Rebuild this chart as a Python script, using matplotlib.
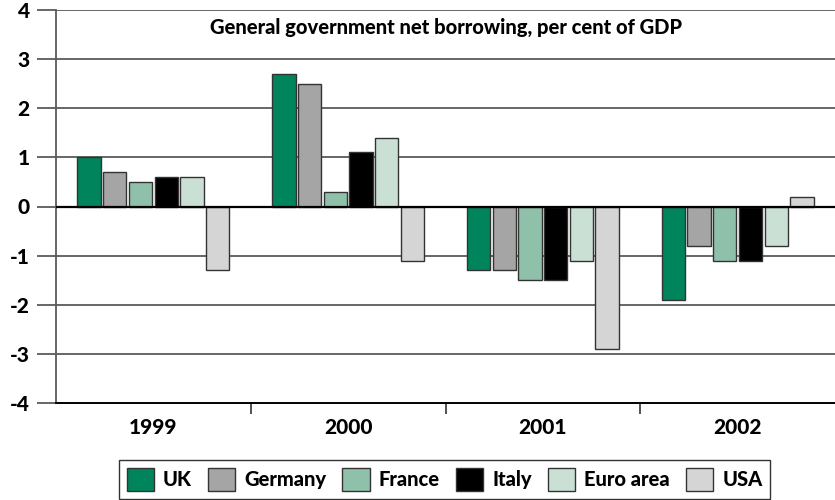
import matplotlib
matplotlib.use("Agg")
import matplotlib.pyplot as plt
import numpy as np
from matplotlib.patches import Patch

years = ["1999", "2000", "2001", "2002"]
series = ["UK", "Germany", "France", "Italy", "Euro area", "USA"]
uk = [1.0, 2.7, -1.3, -1.9]
germany = [0.7, 2.5, -1.3, -0.8]
france = [0.5, 0.3, -1.5, -1.1]
italy = [0.6, 1.1, -1.5, -1.1]
euro = [0.6, 1.4, -1.1, -0.8]
usa = [-1.3, -1.1, -2.9, 0.2]
values = [uk, germany, france, italy, euro, usa]
colors = ["#00845C", "#A5A5A5", "#8FC1AA", "#000000", "#CBE0D5", "#D5D5D5"]
yticks = [4, 3, 2, 1, 0, -1, -2, -3, -4]
title = "General government net borrowing, per cent of GDP"

plt.rcParams['font.family'] = ['Lato', 'DejaVu Sans']
W = 900

fig = plt.figure(figsize=(8.35, 5.0), dpi=100)
ax = fig.add_axes([56/835, 1-403/500, 1-56/835, (403-10)/500])

x = np.arange(len(years))
slot = 0.132
bw = 0.12
for i, (vals, c) in enumerate(zip(values, colors)):
    ax.bar(x + (i - 2.5) * slot, vals, width=bw, color=c, edgecolor="#333333",
           linewidth=1.0, zorder=3)

ax.set_xlim(-0.5, len(years) - 0.5)
ax.set_ylim(-4, 4)
ax.set_yticks(yticks)
ax.set_yticklabels([str(t) for t in yticks], fontsize=15, fontweight=W)
for t in yticks:
    if t == 0:
        ax.axhline(t, color="#000000", linewidth=1.6, zorder=4)
    elif t != -4:
        ax.axhline(t, color="#5a5a5a", linewidth=1.3, zorder=1)

ax.set_xticks(x)
ax.set_xticklabels(years, fontsize=15, fontweight=W)
ax.set_xticks(np.arange(0.5, len(years) - 0.5, 1), minor=True)
ax.tick_params(axis='x', which='major', length=0, pad=11)
ax.tick_params(axis='x', which='minor', length=8, width=1.2, color="#333333", direction='out')
ax.tick_params(axis='y', length=14, width=1.3, color="#5a5a5a", pad=5)

for s in ["top", "right"]:
    ax.spines[s].set_visible(False)
ax.spines["left"].set_color("#5a5a5a")
ax.spines["left"].set_linewidth(1.3)
ax.spines["bottom"].set_color("#000000")
ax.spines["bottom"].set_linewidth(1.4)

ax.text(0.5, 1 - 17/393, title, transform=ax.transAxes, ha='center', va='center',
        fontsize=14.5, fontweight=W)

handles = [Patch(facecolor=c, edgecolor="#333333", linewidth=1.0, label=s)
           for s, c in zip(series, colors)]
leg = fig.legend(handles=handles, loc='upper center', bbox_to_anchor=(444.5/835, 1-460/500),
                 ncol=6, frameon=True, handlelength=1.35, handleheight=1.35,
                 handletextpad=0.45, columnspacing=0.8, borderpad=0.4, borderaxespad=0,
                 fancybox=False, prop={'weight': W, 'size': 14.5})
leg.get_frame().set_edgecolor("#000000")
leg.get_frame().set_linewidth(1.0)

fig.savefig("out.png", dpi=100)
